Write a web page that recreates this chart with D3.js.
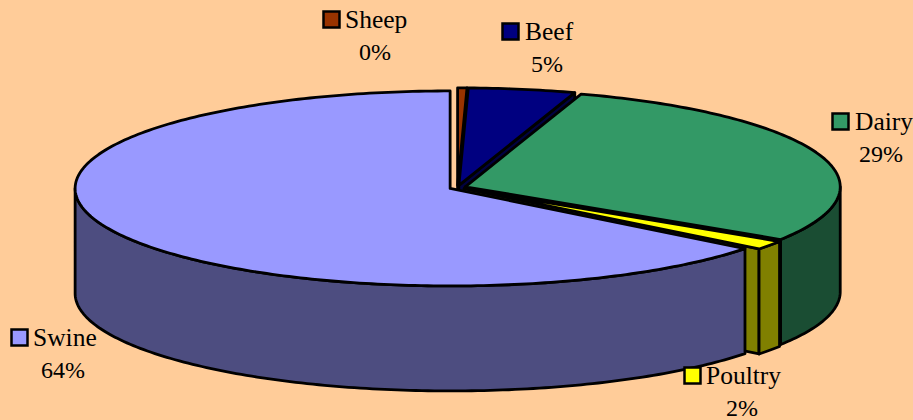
<!DOCTYPE html>
<html>
<head>
<meta charset="utf-8">
<script src="https://cdn.jsdelivr.net/npm/d3@7"></script>
<style>
  html, body { margin: 0; padding: 0; background: #ffcc99; }
  svg { display: block; }
  text { font-family: "Liberation Serif", serif; font-size: 24px; fill: #000; }
  text.name { font-size: 25.5px; }
</style>
</head>
<body>
<svg id="chart"></svg>
<script>
// Data, clockwise from 12 o'clock
const categories = ["Sheep", "Beef", "Dairy", "Poultry", "Swine"];
const shares = [0.4, 4.6, 29.1, 1.5, 64.4];

const topColors = ["#993300", "#000080", "#339966", "#ffff00", "#9999ff"];
const sideColors = ["#4d1a00", "#000040", "#1a4d33", "#808000", "#4d4d80"];

// Label layout: legend key corner, name x, percent centre x
const keyX = [324, 503, 833, 685, 12];
const keyY = [12, 24, 114, 368, 330];
const nameX = [345, 525, 855, 706, 33];
const pctX = [375, 547, 881, 742, 63];

const width = 913;
const height = 420;
const cx = 457.5;
const cy = 187.5;
const rx = 375;
const ry = 97.5;
const depth = 105;
const explode = 8.2;

const svg = d3.select("#chart")
    .attr("width", width)
    .attr("height", height);

// Pie layout gives the angles, keep the data order
const pie = d3.pie().sort(null).value(d => d.share);
const slices = pie(categories.map((name, i) => ({ name, share: shares[i], i })));

const xScale = d3.scaleLinear().domain([-1, 1]).range([-rx, rx]);
const yScale = d3.scaleLinear().domain([-1, 1]).range([-ry, ry]);
const line = d3.line();

slices.forEach(s => {
    const mid = (s.startAngle + s.endAngle) / 2;
    s.ox = cx + xScale(Math.sin(mid)) * explode / rx;
    s.oy = cy - yScale(Math.cos(mid)) * explode / rx;
});

function rim(s, a, dy) {
    return [s.ox + xScale(Math.sin(a)), s.oy - yScale(Math.cos(a)) + dy];
}

function rimPoints(s, a0, a1, dy) {
    const n = Math.max(2, Math.ceil((a1 - a0) * 60));
    return d3.range(n + 1).map(k => rim(s, a0 + (a1 - a0) * k / n, dy));
}

function topPath(s) {
    return line([[s.ox, s.oy], ...rimPoints(s, s.startAngle, s.endAngle, 0)]) + "Z";
}

// Outer wall, only the part facing the viewer
function wallPath(s) {
    const a0 = Math.max(s.startAngle, Math.PI / 2);
    const a1 = Math.min(s.endAngle, 3 * Math.PI / 2);
    if (a1 <= a0) return null;
    return line([...rimPoints(s, a0, a1, 0), ...rimPoints(s, a0, a1, depth).reverse()]) + "Z";
}

// Cut face at the clockwise end of a slice
function facePath(s) {
    const e = rim(s, s.endAngle, 0);
    return line([[s.ox, s.oy], e, [e[0], e[1] + depth], [s.ox, s.oy + depth]]) + "Z";
}

const pieGroup = svg.append("g")
    .attr("stroke", "#000")
    .attr("stroke-width", 2.8)
    .attr("stroke-linejoin", "round");

slices.forEach(s => {
    const side = sideColors[s.data.i];
    // the end face looks at the viewer while it lies on the right half
    if (s.endAngle < Math.PI) {
        pieGroup.append("path").attr("d", facePath(s)).attr("fill", side);
    }
    const wall = wallPath(s);
    if (wall) pieGroup.append("path").attr("d", wall).attr("fill", side);
    pieGroup.append("path").attr("d", topPath(s)).attr("fill", topColors[s.data.i]);
});

// Labels
const labels = svg.selectAll("g.label")
    .data(slices)
    .join("g")
    .attr("class", "label");

labels.append("rect")
    .attr("x", d => keyX[d.data.i] - 0.5)
    .attr("y", d => keyY[d.data.i] - 0.5)
    .attr("width", 16)
    .attr("height", 16)
    .attr("fill", d => topColors[d.data.i])
    .attr("stroke", "#000")
    .attr("stroke-width", 2.5);

labels.append("text")
    .attr("class", "name")
    .attr("x", d => nameX[d.data.i])
    .attr("y", d => keyY[d.data.i] + 16)
    .text(d => d.data.name);

labels.append("text")
    .attr("x", d => pctX[d.data.i])
    .attr("y", d => keyY[d.data.i] + 48)
    .attr("text-anchor", "middle")
    .text(d => Math.round(d.data.share) + "%");
</script>
</body>
</html>
